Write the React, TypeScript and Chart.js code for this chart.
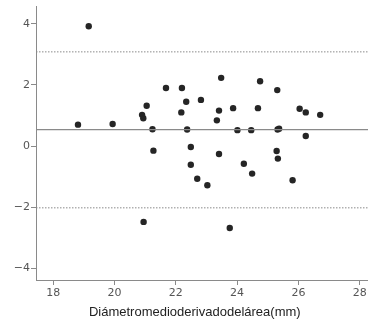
import React, { useEffect, useRef } from "react";
import { Chart, registerables } from "chart.js";

Chart.register(...registerables);

const diameterMm = [
  18.81, 19.16, 19.94, 20.90, 20.94, 21.05, 21.24, 21.27, 20.95, 21.68,
  22.20, 22.18, 22.34, 22.37, 22.49, 22.49, 22.70, 22.82, 23.03, 23.48,
  23.41, 23.34, 23.41, 23.76, 23.87, 24.01, 24.22, 24.46, 24.49, 24.68,
  24.75, 25.31, 25.32, 25.37, 25.29, 25.33, 25.81, 26.04, 26.24, 26.24,
  26.71,
];
const differenceMm = [
  0.70, 3.92, 0.72, 1.02, 0.91, 1.32, 0.55, -0.15, -2.48, 1.90,
  1.90, 1.10, 1.45, 0.54, -0.03, -0.61, -1.07, 1.51, -1.28, 2.23,
  1.16, 0.84, -0.26, -2.68, 1.24, 0.52, -0.58, 0.52, -0.90, 1.24,
  2.12, 1.83, 0.54, 0.57, -0.16, -0.41, -1.12, 1.22, 1.10, 0.33,
  1.02,
];
const meanDifference = 0.54;
const upperLimit = 3.08;
const lowerLimit = -2.02;
const xRange = [17.44, 28.27];
const yRange = [-4.38, 4.58];
const xTicks = [18, 20, 22, 24, 26, 28];
const yTicks = [-4, -2, 0, 2, 4];
const xTitle = "Diámetromedioderivadodelárea(mm)";

export default function App() {
  const ref = useRef<HTMLCanvasElement | null>(null);
  useEffect(() => {
    if (!ref.current) return;
    const pts = diameterMm.map((x, i) => ({ x, y: differenceMm[i] }));
    const hline = (v: number) => [
      { x: xRange[0], y: v },
      { x: xRange[1], y: v },
    ];
    const chart = new Chart(ref.current, {
      type: "scatter",
      data: {
        datasets: [
          {
            type: "line",
            data: hline(meanDifference),
            borderColor: "#8a8a8a",
            borderWidth: 1.3,
            pointRadius: 0,
          } as any,
          {
            type: "line",
            data: hline(upperLimit),
            borderColor: "#8a8a8a",
            borderWidth: 1,
            borderDash: [1.5, 1.5],
            pointRadius: 0,
          } as any,
          {
            type: "line",
            data: hline(lowerLimit),
            borderColor: "#8a8a8a",
            borderWidth: 1,
            borderDash: [1.5, 1.5],
            pointRadius: 0,
          } as any,
          {
            data: pts,
            backgroundColor: "#252525",
            borderColor: "#252525",
            pointRadius: 3.2,
            borderWidth: 0,
          },
        ],
      },
      options: {
        animation: false,
        responsive: false,
        maintainAspectRatio: false,
        layout: { autoPadding: false, padding: { top: 6, left: 0, right: 0, bottom: 0 } },
        plugins: { legend: { display: false }, tooltip: { enabled: false } },
        scales: {
          x: {
            type: "linear",
            min: xRange[0],
            max: xRange[1],
            afterBuildTicks: (s: any) => {
              s.ticks = xTicks.map((v) => ({ value: v }));
            },
            afterFit: (s: any) => {
              s.height = 42;
              s.paddingLeft = 0;
              s.paddingRight = 0;
            },
            grid: {
              drawOnChartArea: false,
              drawTicks: true,
              tickLength: 5,
              color: "#8a8a8a",
            },
            border: { color: "#8a8a8a", width: 1 },
            ticks: {
              color: "#555",
              padding: 2,
              font: { family: "DejaVu Sans", size: 11 },
              maxRotation: 0,
            },
            title: {
              display: true,
              text: xTitle + "\u00a0\u00a0\u00a0\u00a0",
              color: "#222",
              font: { family: "Liberation Sans", size: 13 },
              padding: { top: 2, bottom: 2 },
            },
          },
          y: {
            type: "linear",
            min: yRange[0],
            max: yRange[1],
            afterBuildTicks: (s: any) => {
              s.ticks = yTicks.map((v) => ({ value: v }));
            },
            afterFit: (s: any) => {
              s.width = 36;
              s.paddingTop = 0;
              s.paddingBottom = 0;
            },
            grid: {
              drawOnChartArea: false,
              drawTicks: true,
              tickLength: 5,
              color: "#8a8a8a",
            },
            border: { color: "#8a8a8a", width: 1 },
            ticks: {
              color: "#555",
              padding: 1,
              font: { family: "DejaVu Sans", size: 11 },
              callback: (v: any) => (Number(v) < 0 ? "\u2212" + Math.abs(Number(v)) : String(v)),
            },
          },
        },
      },
    });
    return () => chart.destroy();
  }, []);
  return (
    <div style={{ position: "fixed", left: 0, top: 0, width: 368, height: 322, background: "#fff" }}>
      <canvas ref={ref} width={368} height={322} style={{ width: 368, height: 322 }} />
    </div>
  );
}
